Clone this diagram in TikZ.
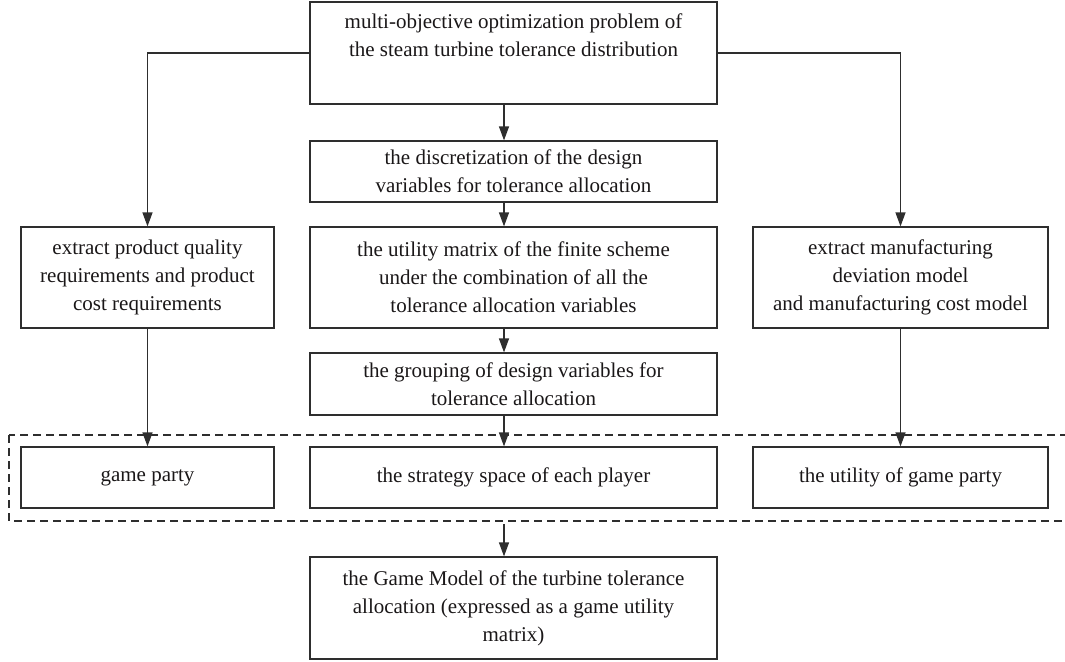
\documentclass[tikz,border=0pt]{standalone}
\usepackage{fontspec}
\setmainfont{Liberation Serif}
\usetikzlibrary{positioning, calc, arrows.meta}
\definecolor{linegray}{HTML}{2E2E2E}
\definecolor{textgray}{HTML}{1A1718}

\begin{document}
\begin{tikzpicture}[x=1pt, y=-1pt,
      block/.style={rectangle, draw=linegray, line width=1.2pt, align=center, inner sep=0pt,
        font=\fontsize{21}{28}\selectfont, text=textgray},
      wide/.style={block, minimum width=407pt},
      flow/.style={-{Triangle[length=14pt,width=10pt]}, draw=linegray, line width=1.2pt},
      groupbox/.style={draw=linegray, line width=1.2pt, dash pattern=on 8pt off 5pt}
  ]

  \useasboundingbox (0,0) rectangle (1065,661);

  % main column
  \node[wide, minimum height=102pt] (problem) at (513.5,53)
    {multi-objective optimization problem of\\the steam turbine tolerance distribution\\\strut};
  \node[wide, minimum height=61pt] (discrete) at (513.5,171.5)
    {the discretization of the design\\variables for tolerance allocation};
  \node[wide, minimum height=101pt] (utility) at (513.5,277.5)
    {the utility matrix of the finite scheme\\under the combination of all the\\tolerance allocation variables};
  \node[wide, minimum height=62pt] (grouping) at (513.5,384)
    {the grouping of design variables for\\tolerance allocation};

  % side columns
  \node[block, minimum width=253pt, minimum height=101pt] (quality) at (147.5,277.5)
    {extract product quality\\requirements and product\\cost requirements};
  \node[block, minimum width=295pt, minimum height=101pt] (manufact) at (900.5,277.5)
    {extract manufacturing\\deviation model\\and manufacturing cost model};

  % game elements
  \node[block, minimum width=253pt, minimum height=61pt] (party) at (147.5,477.5) {game party};
  \node[wide, minimum height=61pt] (strategy) at (513.5,477.5) {the strategy space of each player};
  \node[block, minimum width=295pt, minimum height=61pt] (payoff) at (900.5,477.5) {the utility of game party};
  \draw[groupbox] (9,435) rectangle (1070,521);
  \coordinate (groupexit) at (504,524);

  \node[wide, minimum height=102pt] (model) at (513.5,608)
    {the Game Model of the turbine tolerance\\allocation (expressed as a game utility\\matrix)};

  % connections
  \draw[flow] (problem.west) -| (quality.north);
  \draw[flow] (problem.east) -| (manufact.north);
  \draw[flow] ([xshift=-9.5pt]problem.south) -- ([xshift=-9.5pt]discrete.north);
  \draw[flow] ([xshift=-9.5pt]discrete.south) -- ([xshift=-9.5pt]utility.north);
  \draw[flow] ([xshift=-9.5pt]utility.south) -- ([xshift=-9.5pt]grouping.north);
  \draw[flow] ([xshift=-9.5pt]grouping.south) -- ([xshift=-9.5pt]strategy.north);
  \draw[flow] (quality.south) -- (party.north);
  \draw[flow] (manufact.south) -- (payoff.north);
  \draw[flow] (groupexit) -- (groupexit |- model.north);
\end{tikzpicture}
\end{document}
